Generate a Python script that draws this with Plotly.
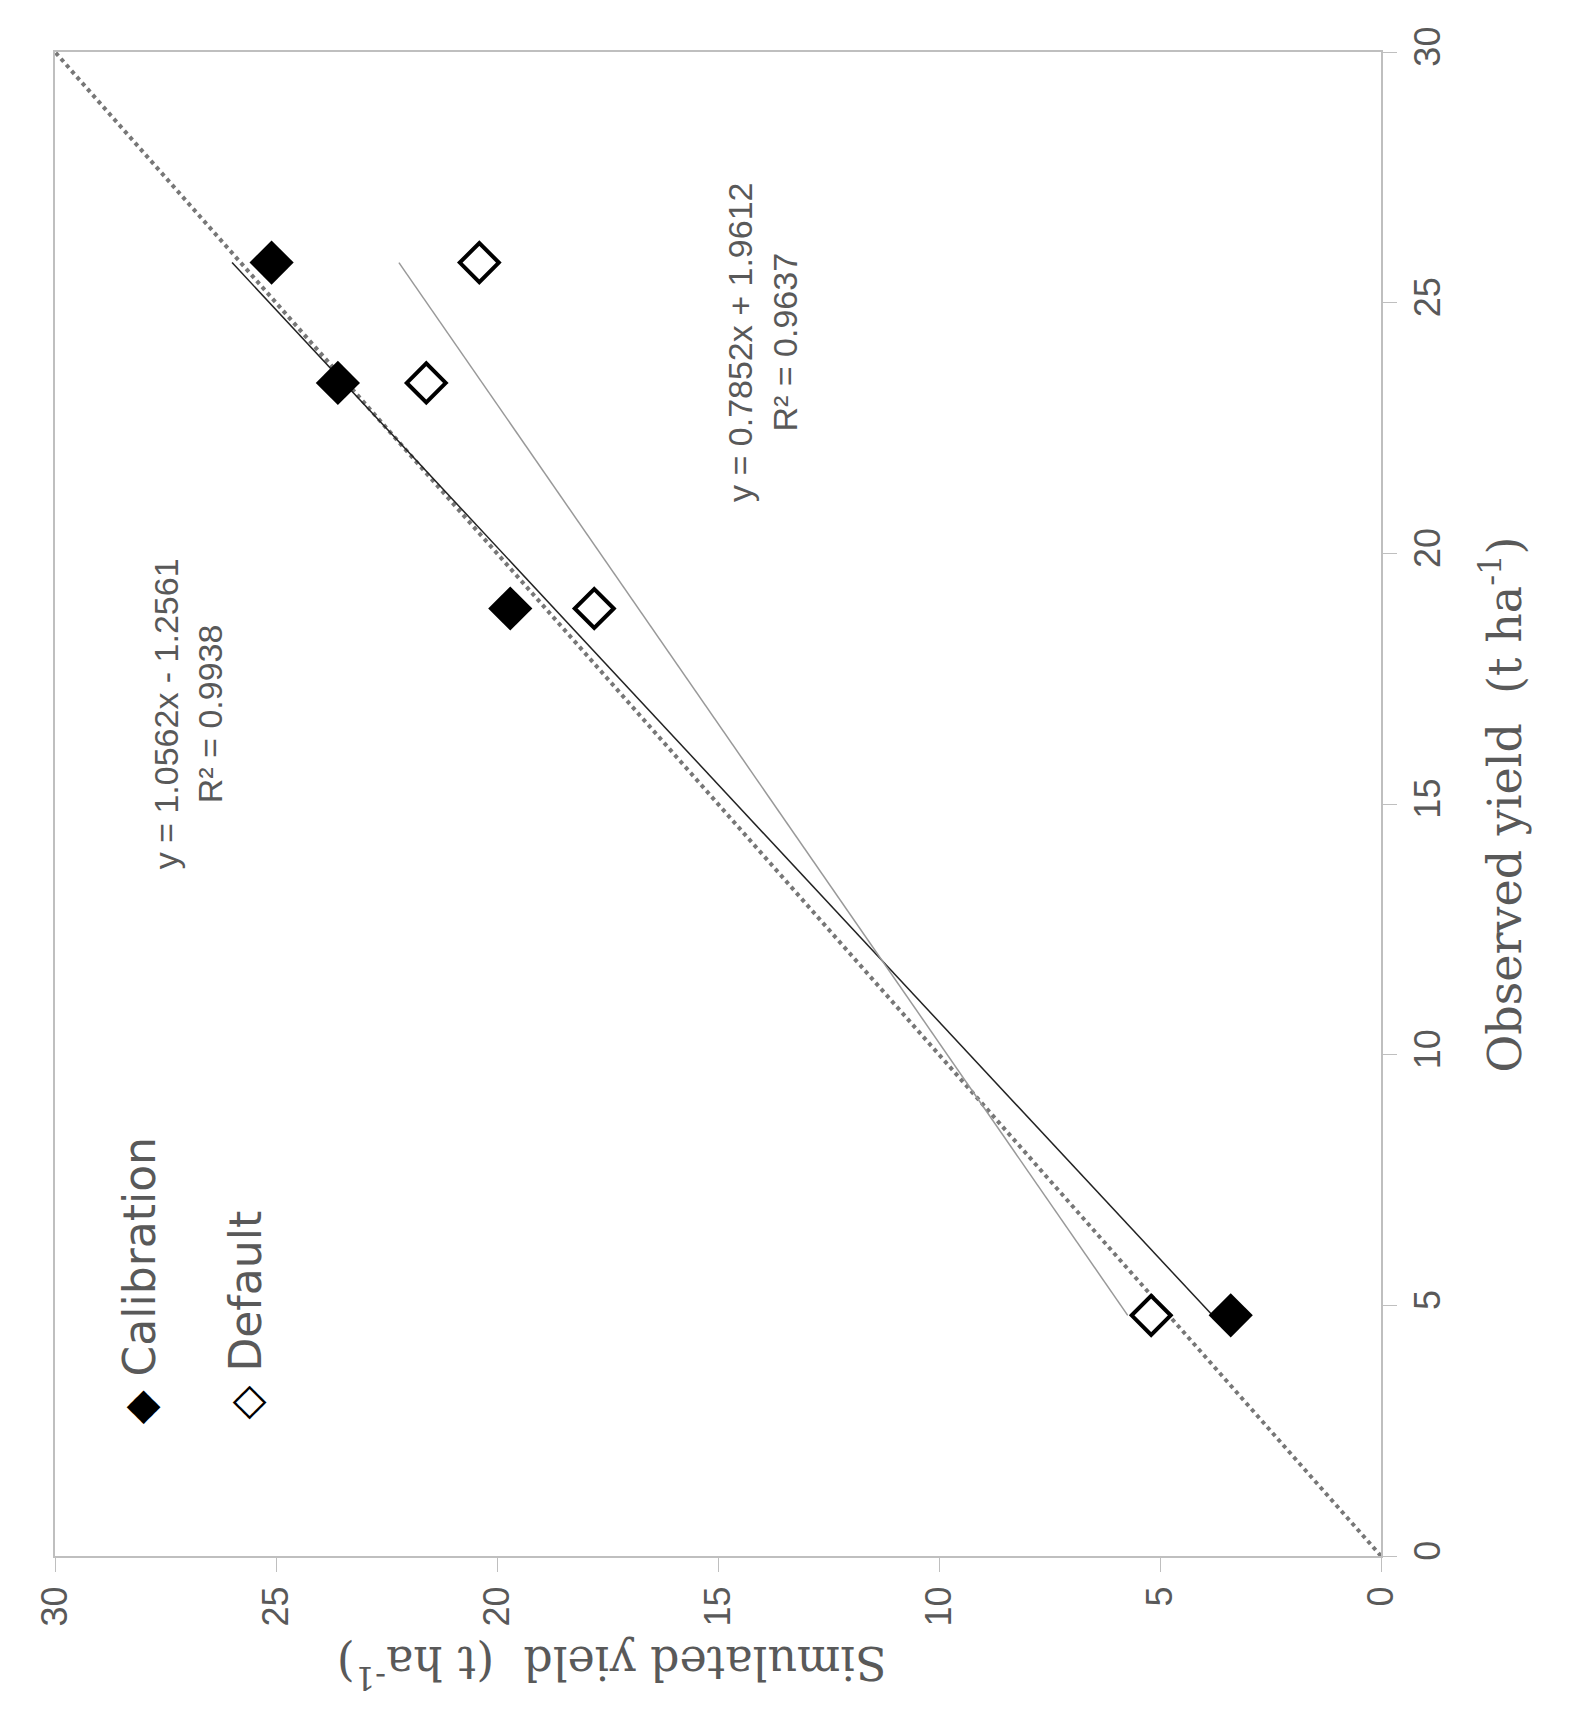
import plotly.graph_objects as go

obs = [4.8, 18.9, 23.4, 25.8]
sim_cal = [3.4, 19.7, 23.6, 25.1]
sim_def = [5.2, 17.8, 21.6, 20.4]
cal_fit = (1.0562, -1.2561)
def_fit = (0.7852, 1.9612)
ticks = [0, 5, 10, 15, 20, 25, 30]

fig = go.Figure()
fig.add_trace(go.Scatter(x=[0, 30], y=[0, 30], mode="lines",
                         line=dict(color="#777", width=4, dash="dot")))
xs = [min(obs), max(obs)]
fig.add_trace(go.Scatter(x=[cal_fit[0]*v + cal_fit[1] for v in xs], y=xs, mode="lines",
                         line=dict(color="#222", width=1.5)))
fig.add_trace(go.Scatter(x=[def_fit[0]*v + def_fit[1] for v in xs], y=xs, mode="lines",
                         line=dict(color="#999", width=1.5)))
fig.add_trace(go.Scatter(x=sim_cal, y=obs, mode="markers",
                         marker=dict(symbol="diamond", size=34, color="black")))
fig.add_trace(go.Scatter(x=sim_def, y=obs, mode="markers",
                         marker=dict(symbol="diamond", size=30, color="white",
                                     line=dict(color="black", width=4))))

axis_common = dict(showgrid=False, zeroline=False, showline=True, linecolor="#bfbfbf",
                   linewidth=2, ticks="outside", ticklen=14, tickcolor="#bfbfbf",
                   tickvals=ticks, tickangle=-90, mirror=True,
                   tickfont=dict(family="Liberation Sans", size=36, color="#595959"))
fig.update_layout(
    width=1591, height=1731, plot_bgcolor="white", paper_bgcolor="white",
    showlegend=False, margin=dict(l=47, r=218, t=44, b=183),
    xaxis=dict(range=[30, 0], **axis_common),
    yaxis=dict(range=[0, 30], side="right", **axis_common),
)
gray = "#595959"
fig.add_annotation(xref="paper", yref="paper", x=1.115, y=0.5, showarrow=False,
                   text="Observed yield  (t ha<sup>-1</sup>)", textangle=-90,
                   font=dict(family="DejaVu Serif", size=46, color=gray))
fig.add_annotation(xref="paper", yref="paper", x=0.42, y=-0.095, showarrow=False,
                   text="Simulated yield  (t ha<sup>-1</sup>)", textangle=180,
                   font=dict(family="DejaVu Serif", size=46, color=gray))
fig.add_annotation(x=27.0, y=16.8, showarrow=False, textangle=-90,
                   text="y = 1.0562x - 1.2561<br>R² = 0.9938",
                   font=dict(family="Liberation Sans", size=34, color=gray))
fig.add_annotation(x=14.0, y=24.2, showarrow=False, textangle=-90,
                   text="y = 0.7852x + 1.9612<br>R² = 0.9637",
                   font=dict(family="Liberation Sans", size=34, color=gray))
fig.add_annotation(x=28.1, y=5.5, showarrow=False, textangle=-90,
                   text="<span style='color:black'>◆</span> Calibration",
                   font=dict(family="DejaVu Sans", size=44, color=gray))
fig.add_annotation(x=25.7, y=4.8, showarrow=False, textangle=-90,
                   text="<span style='color:black'>◇</span> Default",
                   font=dict(family="DejaVu Sans", size=44, color=gray))
fig.write_html("out.html")
